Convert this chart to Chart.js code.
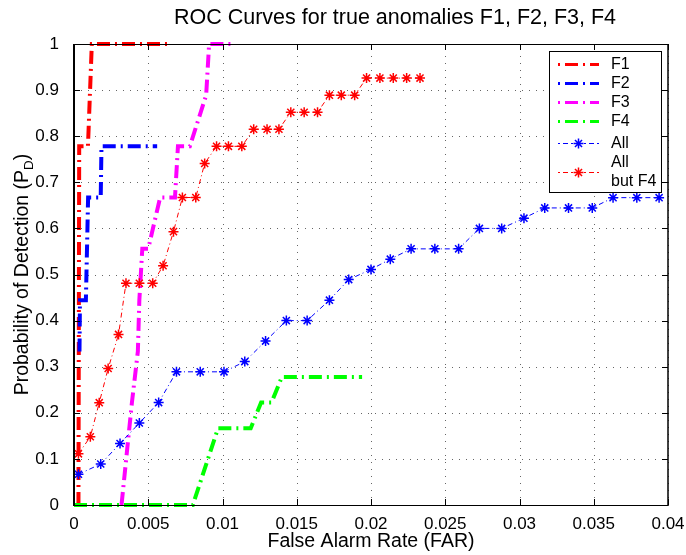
<!DOCTYPE html>
<html>
<head>
<meta charset="utf-8">
<script src="https://cdn.jsdelivr.net/npm/chart.js@4"></script>
<style>
html,body{margin:0;padding:0;background:#fff;}
#wrap{width:686px;height:555px;}
</style>
</head>
<body>
<div id="wrap"><canvas id="c" width="686" height="555"></canvas></div>
<script>
// ---- data ----
const seriesNames = ['F1', 'F2', 'F3', 'F4', 'All', 'All but F4'];

const f1X = [0.0003, 0.00035, 0.00094, 0.0012, 0.0063];
const f1Y = [0, 0.778, 0.778, 1, 1];

const f2X = [0.00037, 0.0004, 0.0008, 0.00095, 0.0018, 0.00185, 0.0056];
const f2Y = [0.333, 0.444, 0.444, 0.667, 0.667, 0.778, 0.778];

const f3X = [0.0032, 0.0039, 0.0043, 0.0044, 0.0046, 0.0050, 0.0058, 0.0068, 0.0070, 0.0078, 0.0089, 0.0091, 0.0108];
const f3Y = [0, 0.222, 0.333, 0.444, 0.556, 0.556, 0.667, 0.667, 0.778, 0.778, 0.889, 1, 1];

const f4X = [0, 0.0080, 0.0097, 0.0119, 0.0126, 0.0133, 0.0140, 0.0194];
const f4Y = [0, 0, 0.1667, 0.1667, 0.2222, 0.2222, 0.2778, 0.2778];

const allX = [0.0003, 0.0018, 0.0031, 0.0044, 0.0057, 0.0069, 0.0085, 0.0101, 0.0115, 0.0129,
              0.0143, 0.0157, 0.0172, 0.0185, 0.0200, 0.0213, 0.0227, 0.0243, 0.0259, 0.0273,
              0.0288, 0.0303, 0.0317, 0.0333, 0.0349, 0.0363, 0.0379, 0.0394];
const allY = [0.0667, 0.0889, 0.1333, 0.1778, 0.2222, 0.2889, 0.2889, 0.2889, 0.3111, 0.3556,
              0.4, 0.4, 0.4444, 0.4889, 0.5111, 0.5333, 0.5556, 0.5556, 0.5556, 0.6,
              0.6, 0.6222, 0.6444, 0.6444, 0.6444, 0.6667, 0.6667, 0.6667];

const allButF4X = [0.0003, 0.0011, 0.0017, 0.0023, 0.0030, 0.0035, 0.0044, 0.0053, 0.0060, 0.0067,
                   0.0073, 0.0082, 0.0088, 0.0096, 0.0104, 0.0113, 0.0121, 0.0130, 0.0138, 0.0146,
                   0.0155, 0.0164, 0.0172, 0.0180, 0.0189, 0.0197, 0.0206, 0.0215, 0.0224, 0.0233];
const allButF4Y = [0.111, 0.148, 0.222, 0.296, 0.370, 0.481, 0.481, 0.481, 0.519, 0.593,
                   0.667, 0.667, 0.741, 0.778, 0.778, 0.778, 0.815, 0.815, 0.815, 0.852,
                   0.852, 0.852, 0.889, 0.889, 0.889, 0.926, 0.926, 0.926, 0.926, 0.926];

const xTickLabels = ['0', '0.005', '0.01', '0.015', '0.02', '0.025', '0.03', '0.035', '0.04'];
const yTickLabels = ['0', '0.1', '0.2', '0.3', '0.4', '0.5', '0.6', '0.7', '0.8', '0.9', '1'];

const titleText = 'ROC Curves for true anomalies F1, F2, F3, F4';
const xTitleText = 'False Alarm Rate (FAR)';
const yTitleMain = 'Probability of Detection (P';
const yTitleSub = 'D';
const yTitleEnd = ')';

// ---- styling ----
const FONT = "'Liberation Sans', Arial, Helvetica, sans-serif";
const colors = { F1: '#ff0000', F2: '#0000ff', F3: '#ff00ff', F4: '#00ff00', All: '#0000ff', 'All but F4': '#ff0000' };
const thickDash = [13, 5, 2, 5];
const thinDash = [5, 3, 1, 3];

const pts = (xs, ys) => xs.map((v, i) => ({ x: v, y: ys[i] }));

function thickSet(name, xs, ys, order) {
  return {
    label: name, data: pts(xs, ys), borderColor: colors[name], backgroundColor: colors[name],
    borderWidth: 4, borderDash: thickDash, pointRadius: 0, pointHoverRadius: 0, tension: 0,
    showLine: true, fill: false, order: order, borderCapStyle: 'butt', clip: 6
  };
}
function starSet(name, xs, ys, order) {
  return {
    label: name, data: pts(xs, ys), borderColor: colors[name], backgroundColor: colors[name],
    borderWidth: 1, borderDash: thinDash, pointStyle: 'star', pointRadius: 5, pointHoverRadius: 5,
    pointBorderWidth: 1.5, pointBorderColor: colors[name], tension: 0, showLine: true, fill: false,
    order: order, clip: 6
  };
}

const datasets = [
  thickSet('F1', f1X, f1Y, 5),
  thickSet('F2', f2X, f2Y, 4),
  thickSet('F3', f3X, f3Y, 3),
  thickSet('F4', f4X, f4Y, 2),
  starSet('All', allX, allY, 1),
  starSet('All but F4', allButF4X, allButF4Y, 0)
];

const decor = {
  id: 'decor',
  beforeDatasetsDraw(chart) {
    const { ctx, chartArea: a, scales: { x, y } } = chart;
    ctx.save();
    ctx.strokeStyle = 'rgba(0,0,0,0.6)';
    ctx.lineWidth = 1;
    ctx.setLineDash([1, 6]);
    x.ticks.forEach(t => {
      const px = Math.round(x.getPixelForValue(t.value)) + 0.5;
      ctx.beginPath(); ctx.moveTo(px, a.bottom); ctx.lineTo(px, a.top); ctx.stroke();
    });
    y.ticks.forEach(t => {
      const py = Math.round(y.getPixelForValue(t.value)) + 0.5;
      ctx.beginPath(); ctx.moveTo(a.left, py); ctx.lineTo(a.right, py); ctx.stroke();
    });
    ctx.restore();
  },
  afterDatasetsDraw(chart) {
    const { ctx, chartArea: a, scales: { x, y } } = chart;
    ctx.save();
    ctx.setLineDash([]);
    ctx.strokeStyle = '#000';
    const TL = 6;
    ctx.lineWidth = 1;
    x.ticks.forEach(t => {
      const px = Math.round(x.getPixelForValue(t.value)) + 0.5;
      ctx.beginPath();
      ctx.moveTo(px, a.bottom); ctx.lineTo(px, a.bottom - TL);
      ctx.moveTo(px, a.top); ctx.lineTo(px, a.top + TL);
      ctx.stroke();
    });
    y.ticks.forEach(t => {
      const py = Math.round(y.getPixelForValue(t.value)) + 0.5;
      ctx.beginPath();
      ctx.moveTo(a.left, py); ctx.lineTo(a.left + TL, py);
      ctx.moveTo(a.right, py); ctx.lineTo(a.right - TL, py);
      ctx.stroke();
    });
    ctx.lineWidth = 1;
    ctx.beginPath();
    ctx.moveTo(a.left, a.top + 0.5); ctx.lineTo(a.right, a.top + 0.5);
    ctx.moveTo(a.left, a.bottom + 0.5); ctx.lineTo(a.right, a.bottom + 0.5);
    ctx.stroke();
    ctx.lineWidth = 2;
    ctx.beginPath();
    ctx.moveTo(a.left, a.top); ctx.lineTo(a.left, a.bottom + 1);
    ctx.stroke();
    ctx.lineWidth = 1.5;
    ctx.beginPath();
    ctx.moveTo(a.right, a.top); ctx.lineTo(a.right, a.bottom + 1);
    ctx.stroke();

    // legend box (inside axes, top right)
    const lx = a.right - 119, ly = a.top + 7, lw = 112, lh = 141;
    ctx.fillStyle = '#fff';
    ctx.fillRect(lx, ly, lw, lh);
    ctx.lineWidth = 1;
    ctx.strokeStyle = '#000';
    ctx.strokeRect(lx + 0.5, ly + 0.5, lw, lh);
    const rowY = [64, 83, 102, 121, 143, 172];
    const x0 = lx + 9, x1 = lx + 50, tx = lx + 62;
    ctx.font = '16px ' + FONT;
    ctx.textBaseline = 'middle';
    ctx.textAlign = 'left';
    datasets.forEach((ds, i) => {
      const yy = rowY[i] + 0.5;
      const thick = i < 4;
      ctx.save();
      ctx.strokeStyle = ds.borderColor;
      ctx.lineWidth = thick ? 3 : 1;
      ctx.setLineDash(thick ? [2, 5, 13, 5] : [2, 3, 5, 3]);
      ctx.beginPath(); ctx.moveTo(x0, yy); ctx.lineTo(x1, yy); ctx.stroke();
      ctx.setLineDash([]);
      if (!thick) {
        ctx.lineWidth = 1.5;
        ctx.strokeStyle = ds.borderColor;
        Chart.helpers.drawPoint(ctx, { pointStyle: 'star', radius: 5, borderWidth: 1.5 }, (x0 + x1) / 2, yy);
      }
      ctx.restore();
      ctx.fillStyle = '#000';
      if (ds.label === 'All but F4') {
        ctx.fillText('All', tx, 163);
        ctx.fillText('but F4', tx, 182);
      } else {
        ctx.fillText(ds.label, tx, yy);
      }
    });
    ctx.restore();
  },
  afterDraw(chart) {
    const { ctx, chartArea: a } = chart;
    ctx.save();
    ctx.fillStyle = '#000';
    // chart title
    ctx.textBaseline = 'middle';
    ctx.textAlign = 'center';
    ctx.font = '21.5px ' + FONT;
    ctx.fillText(titleText, 395, 18);
    // y axis title with subscript
    ctx.textAlign = 'left';
    const big = '19.5px ' + FONT, small = '13.5px ' + FONT;
    ctx.font = big;
    const w1 = ctx.measureText(yTitleMain).width;
    const w3 = ctx.measureText(yTitleEnd).width;
    ctx.font = small;
    const w2 = ctx.measureText(yTitleSub).width;
    const total = w1 + w2 + w3;
    ctx.translate(23, (a.top + a.bottom) / 2);
    ctx.rotate(-Math.PI / 2);
    let sx = -total / 2;
    ctx.font = big;
    ctx.fillText(yTitleMain, sx, 0);
    sx += w1;
    ctx.font = small;
    ctx.fillText(yTitleSub, sx, 6);
    sx += w2;
    ctx.font = big;
    ctx.fillText(yTitleEnd, sx, 0);
    ctx.restore();
  }
};

new Chart(document.getElementById('c'), {
  type: 'scatter',
  data: { datasets: datasets },
  options: {
    responsive: false,
    animation: false,
    devicePixelRatio: 1,
    layout: { padding: { top: 44, right: 18, bottom: 0, left: 0 } },
    plugins: {
      legend: { display: false },
      tooltip: { enabled: false },
      title: { display: false }
    },
    scales: {
      x: {
        type: 'linear', min: 0, max: 0.04,
        grid: { display: false },
        border: { display: false },
        ticks: {
          stepSize: 0.005, color: '#000', padding: 1,
          font: { family: FONT, size: 17, lineHeight: 1.2 },
          maxRotation: 0, autoSkip: false,
          callback: (v, i) => xTickLabels[i]
        },
        title: {
          display: true, text: xTitleText, color: '#000',
          font: { family: FONT, size: 19.5, lineHeight: 1.2 },
          padding: { top: 0, bottom: 2 }
        },
        afterFit: s => { s.height = 50; }
      },
      y: {
        type: 'linear', min: 0, max: 1,
        grid: { display: false },
        border: { display: false },
        ticks: {
          stepSize: 0.1, color: '#000', padding: 7,
          font: { family: FONT, size: 17 },
          autoSkip: false,
          callback: (v, i) => yTickLabels[i]
        },
        afterFit: s => { s.width = 74; }
      }
    }
  },
  plugins: [decor]
});
</script>
</body>
</html>
